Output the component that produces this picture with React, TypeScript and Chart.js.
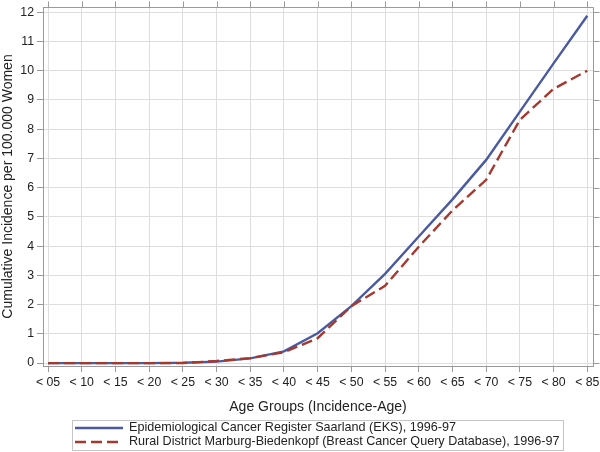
import React, { useEffect, useRef } from 'react';
import { Chart, registerables } from 'chart.js';

Chart.register(...registerables);

const categories = ['< 05', '< 10', '< 15', '< 20', '< 25', '< 30', '< 35', '< 40', '< 45', '< 50', '< 55', '< 60', '< 65', '< 70', '< 75', '< 80', '< 85'];
const eksValues = [0, 0, 0, 0, 0.01, 0.05, 0.16, 0.4, 1.02, 1.95, 3.05, 4.33, 5.6, 6.95, 8.6, 10.25, 11.88];
const marburgValues = [0, 0, 0, 0, 0, 0.07, 0.17, 0.37, 0.85, 1.95, 2.64, 3.98, 5.22, 6.27, 8.32, 9.38, 10.0];
const yTicks = [0, 1, 2, 3, 4, 5, 6, 7, 8, 9, 10, 11, 12];
const seriesLabels = [
  'Epidemiological Cancer Register Saarland (EKS), 1996-97',
  'Rural District Marburg-Biedenkopf (Breast Cancer Query Database), 1996-97',
];
const xTitle = 'Age Groups (Incidence-Age)';
const yTitle = 'Cumulative Incidence per 100.000 Women';

const FONT = '"Liberation Sans", Arial, sans-serif';
const BLUE = '#4a5aa0';
const RED = '#a5382f';
const GRID = '#dedede';
const FRAME = '#9a9a9a';
const TEXT = '#222222';
const DASH = [11, 5];

const framePlugin = {
  id: 'frameAndLegend',
  afterDraw(chart: any) {
    const { ctx, chartArea } = chart;
    const { left, right, top } = chartArea;
    const xs = chart.scales.x;
    const ys = chart.scales.y;
    ctx.save();
    ctx.strokeStyle = FRAME;
    ctx.lineWidth = 1;
    const t = Math.round(top) + 0.5;
    const r = Math.round(right) + 0.5;
    ctx.beginPath();
    ctx.moveTo(Math.round(left), t);
    ctx.lineTo(r, t);
    ctx.lineTo(r, Math.round(chartArea.bottom) + 1);
    ctx.stroke();
    // mirrored ticks on top and right
    ctx.beginPath();
    categories.forEach((_, i) => {
      const px = Math.round(xs.getPixelForValue(i)) + 0.5;
      ctx.moveTo(px, t);
      ctx.lineTo(px, t - 6);
    });
    yTicks.forEach((v) => {
      const py = Math.round(ys.getPixelForValue(v)) + 0.5;
      ctx.moveTo(r, py);
      ctx.lineTo(r + 6, py);
    });
    ctx.stroke();

    // legend
    const bx = 72.5, by = 420.5, bw = 491, bh = 30;
    ctx.strokeStyle = '#c4c4c4';
    ctx.strokeRect(bx, by, bw, bh);
    const rows = [
      { y: 428, color: BLUE, dash: [] as number[] },
      { y: 442, color: RED, dash: DASH },
    ];
    rows.forEach((row, i) => {
      ctx.strokeStyle = row.color;
      ctx.lineWidth = 2.5;
      ctx.setLineDash(row.dash);
      ctx.beginPath();
      ctx.moveTo(75, row.y);
      ctx.lineTo(123, row.y);
      ctx.stroke();
      ctx.setLineDash([]);
      ctx.fillStyle = TEXT;
      ctx.font = `12.6px ${FONT}`;
      ctx.textBaseline = 'middle';
      ctx.textAlign = 'left';
      ctx.fillText(seriesLabels[i], 129, row.y);
    });
    ctx.restore();
  },
};

export default function App() {
  const canvasRef = useRef<HTMLCanvasElement | null>(null);

  useEffect(() => {
    document.body.style.margin = '0';
    const canvas = canvasRef.current;
    if (!canvas) return;
    const chart = new Chart(canvas, {
      type: 'line',
      data: {
        datasets: [
          {
            label: seriesLabels[0],
            data: eksValues.map((v, i) => ({ x: i, y: v })),
            borderColor: BLUE,
            borderWidth: 2.4,
            pointRadius: 0,
            tension: 0,
            fill: false,
            order: 2,
          },
          {
            label: seriesLabels[1],
            data: marburgValues.map((v, i) => ({ x: i, y: v })),
            borderColor: RED,
            borderWidth: 2.4,
            borderDash: DASH,
            pointRadius: 0,
            tension: 0,
            fill: false,
            order: 1,
          },
        ],
      },
      options: {
        responsive: false,
        animation: false,
        devicePixelRatio: 1,
        layout: { padding: { left: 0, right: 7, top: 7, bottom: 36 } },
        plugins: {
          legend: { display: false },
          tooltip: { enabled: false },
        },
        scales: {
          x: {
            type: 'linear',
            min: -0.15,
            max: 16.17,
            afterBuildTicks: (axis: any) => {
              axis.ticks = categories.map((_, i) => ({ value: i }));
            },
            afterFit: (scale: any) => {
              scale.height = 50;
              scale.paddingLeft = 0;
              scale.paddingRight = 0;
            },
            ticks: {
              autoSkip: false,
              maxRotation: 0,
              padding: 3,
              color: TEXT,
              font: { family: FONT, size: 12.3 },
              callback: (value: any) => categories[value] ?? '',
            },
            grid: { color: GRID, tickColor: FRAME, tickLength: 6 },
            border: { color: FRAME },
            title: {
              display: true,
              text: xTitle,
              color: TEXT,
              font: { family: FONT, size: 14 },
              padding: { top: 0, bottom: 0 },
            },
          },
          y: {
            type: 'linear',
            min: -0.1,
            max: 12.18,
            afterBuildTicks: (axis: any) => {
              axis.ticks = yTicks.map((v) => ({ value: v }));
            },
            afterFit: (scale: any) => {
              scale.width = 43;
              scale.paddingTop = 0;
              scale.paddingBottom = 0;
            },
            ticks: {
              padding: 3,
              color: TEXT,
              font: { family: FONT, size: 12.3 },
              callback: (value: any) => String(value),
            },
            grid: { color: GRID, tickColor: FRAME, tickLength: 6 },
            border: { color: FRAME },
            title: {
              display: true,
              text: yTitle,
              color: TEXT,
              font: { family: FONT, size: 14 },
              padding: { top: 0, bottom: 0 },
            },
          },
        },
      },
      plugins: [framePlugin],
    });
    return () => chart.destroy();
  }, []);

  return (
    <div style={{ position: 'absolute', left: 0, top: 0 }}>
      <canvas ref={canvasRef} width={600} height={452} style={{ display: 'block', width: 600, height: 452 }} />
    </div>
  );
}
